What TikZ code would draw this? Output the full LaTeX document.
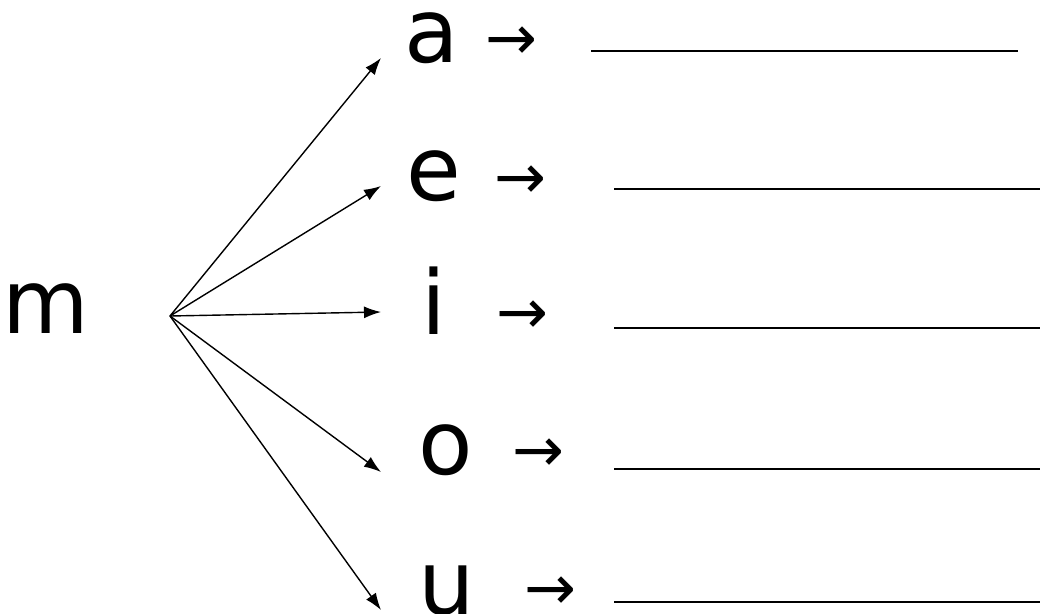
\documentclass[tikz,border=0pt]{standalone}
\usepackage{fontspec}
\setmainfont{DejaVu Sans}
\usetikzlibrary{arrows.meta, positioning}

\begin{document}
\begin{tikzpicture}[
        x=1pt, y=-1pt,
        letter/.style={anchor=base, inner sep=0pt, font=\fontsize{89}{100}\selectfont},
        pointer/.style={anchor=base, inner sep=0pt, font=\fontsize{62}{70}\selectfont},
        branch/.style={draw, line width=1.4pt, -{Latex[length=17pt, width=12pt]}},
        blank/.style={draw, line width=2.2pt}
    ]
        \useasboundingbox (0,0) rectangle (1040,613);

        % consonant and the fan of arrows
        \node[letter] (m) at (46,333) {m};
        \coordinate (hub) at (170,316);

        \node[letter] (a) at (432,62)  {a};
        \node[letter] (e) at (434,200) {e};
        \node[letter] (i) at (434,334) {i};
        \node[letter] (o) at (446,474) {o};
        \node[letter] (u) at (447,614) {u};

        \coordinate (ta) at (381,58);
        \coordinate (te) at (381,186);
        \coordinate (ti) at (381,312);
        \coordinate (to) at (381,472);
        \coordinate (tu) at (381,610);

        \draw[branch] (hub) -- (ta);
        \draw[branch] (hub) -- (te);
        \draw[branch] (hub) -- (ti);
        \draw[branch] (hub) -- (to);
        \draw[branch] (hub) -- (tu);

        % small arrows after the vowels
        \node[pointer] (pa) at (511,59)  {→};
        \node[pointer] (pe) at (520,198) {→};
        \node[pointer] (pi) at (522,333) {→};
        \node[pointer] (po) at (538,471) {→};
        \node[pointer] (pu) at (550,609) {→};

        % answer lines
        \coordinate (la) at (591,51);   \coordinate (ra) at (1018,51);
        \coordinate (le) at (614,189);  \coordinate (re) at (1040,189);
        \coordinate (li) at (614,328);  \coordinate (ri) at (1040,328);
        \coordinate (lo) at (614,469);  \coordinate (ro) at (1040,469);
        \coordinate (lu) at (614,602);  \coordinate (ru) at (1040,602);

        \draw[blank] (la) -- (ra);
        \draw[blank] (le) -- (re);
        \draw[blank] (li) -- (ri);
        \draw[blank] (lo) -- (ro);
        \draw[blank] (lu) -- (ru);
    \end{tikzpicture}
\end{document}
